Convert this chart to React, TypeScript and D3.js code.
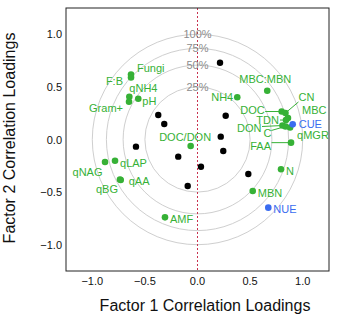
import React from 'react';
import * as d3 from 'd3';

// loadings on factor 1 / factor 2
const greenNames = [
  'Fungi', 'F:B', 'qNH4', 'Gram+', 'pH', 'DOC/DON', 'NH4', 'MBC:MBN',
  'DOC', 'CN', 'MBC', 'TDN', 'DON', 'C', 'qMGR', 'FAA',
  'N', 'MBN', 'qNAG', 'qLAP', 'qAA', 'qBG', 'AMF',
];
const greenF1 = [
  -0.632, -0.632, -0.648, -0.651, -0.563, -0.065, 0.378, 0.663,
  0.8, 0.836, 0.86, 0.841, 0.808, 0.836, 0.88, 0.889,
  0.794, 0.525, -0.879, -0.784, -0.73, -0.737, -0.309,
];
const greenF2 = [
  0.618, 0.589, 0.407, 0.359, 0.388, -0.062, 0.401, 0.464,
  0.266, 0.252, 0.204, 0.185, 0.133, 0.124, 0.114, -0.03,
  -0.283, -0.49, -0.214, -0.202, -0.385, -0.38, -0.74,
];

const blueNames = ['CUE', 'NUE'];
const blueF1 = [0.905, 0.673];
const blueF2 = [0.144, -0.648];

// unlabelled variables
const blackF1 = [-0.373, -0.316, -0.585, 0.214, 0.268, 0.221, 0.245, -0.183, 0.033, -0.093, 0.483];
const blackF2 = [0.233, 0.147, -0.068, 0.73, 0.226, 0.027, -0.109, -0.163, -0.259, -0.442, -0.328];

const varianceRings = [1, 0.75, 0.5, 0.25];
const ticks = [-1, -0.5, 0, 0.5, 1];

const GREEN = '#36b136';
const BLUE = '#3a6cf0';
const FONT = "'Liberation Sans', Arial, Helvetica, sans-serif";

type Lab = { dx: number; dy: number; anchor: string; lx?: number; ly?: number };

const labelLayout: Record<string, Lab> = {
  Fungi: { dx: 6, dy: -6.5, anchor: 'start' },
  'F:B': { dx: -8, dy: 3, anchor: 'end' },
  qNH4: { dx: 0, dy: -8.5, anchor: 'start' },
  'Gram+': { dx: -6, dy: 6.5, anchor: 'end' },
  pH: { dx: 4, dy: 2.5, anchor: 'start' },
  'DOC/DON': { dx: -5.5, dy: -9.5, anchor: 'middle' },
  NH4: { dx: -4, dy: 0, anchor: 'end' },
  'MBC:MBN': { dx: -2, dy: -12, anchor: 'middle' },
  DOC: { dx: -17, dy: -2, anchor: 'end', lx: -16.5, ly: 0 },
  CN: { dx: 13, dy: -16, anchor: 'start', lx: 13, ly: -11 },
  MBC: { dx: 14, dy: -8, anchor: 'start' },
  TDN: { dx: -7, dy: -0.5, anchor: 'end', lx: -6, ly: 0 },
  DON: { dx: -21, dy: 2, anchor: 'end', lx: -20.5, ly: 1 },
  C: { dx: -18, dy: 6.5, anchor: 'middle', lx: -14, ly: 4 },
  qMGR: { dx: 7, dy: 7.5, anchor: 'start' },
  FAA: { dx: -20, dy: 3, anchor: 'end', lx: -19.5, ly: 0 },
  N: { dx: 5, dy: 1.5, anchor: 'start' },
  MBN: { dx: 5, dy: 2, anchor: 'start' },
  qNAG: { dx: -2.5, dy: 9.7, anchor: 'end' },
  qLAP: { dx: 5, dy: 2, anchor: 'start' },
  qAA: { dx: 8, dy: 0.7, anchor: 'start' },
  qBG: { dx: -2, dy: 9.8, anchor: 'end' },
  AMF: { dx: 5, dy: 1.7, anchor: 'start' },
  CUE: { dx: 6, dy: 0, anchor: 'start' },
  NUE: { dx: 5, dy: 1.5, anchor: 'start' },
};

const App = () => {
  const width = 340;
  const height = 324;
  const plot = { left: 66, right: 329, top: 8, bottom: 271 };

  const x = d3.scaleLinear().domain([-1.25, 1.25]).range([plot.left, plot.right]);
  const y = d3.scaleLinear().domain([-1.25, 1.25]).range([plot.bottom, plot.top]);
  const fmt = d3.format('.1f');
  const unit = x(1) - x(0);

  const green = greenNames.map((n, i) => ({ name: n, f1: greenF1[i], f2: greenF2[i], color: GREEN }));
  const blue = blueNames.map((n, i) => ({ name: n, f1: blueF1[i], f2: blueF2[i], color: BLUE }));
  const labelled = [...green, ...blue];

  return (
    <svg width={width} height={height} style={{ position: 'absolute', left: 0, top: 0 }} fontFamily={FONT}>
      <rect x={0} y={0} width={width} height={height} fill="#fff" />

      {/* explained-variance rings, radius = sqrt(share) */}
      {varianceRings.map(p => (
        <circle key={p} cx={x(0)} cy={y(0)} r={Math.sqrt(p) * unit} fill="none" stroke="#cfcfcf" strokeWidth={1} />
      ))}

      <line x1={x(0)} x2={x(0)} y1={plot.top} y2={plot.bottom} stroke="#c8324f" strokeWidth={1} strokeDasharray="2,2" />

      {varianceRings.map(p => (
        <text key={p} x={x(0)} y={y(Math.sqrt(p))} textAnchor="middle" dominantBaseline="central" fontSize={11} fill="#8c8c8c">
          {`${p * 100}%`}
        </text>
      ))}

      <rect x={plot.left} y={plot.top} width={plot.right - plot.left} height={plot.bottom - plot.top} fill="none" stroke="#222" strokeWidth={1} />

      {blackF1.map((v, i) => (
        <circle key={i} cx={x(v)} cy={y(blackF2[i])} r={3.2} fill="#000" />
      ))}

      {labelled.map(d => {
        const l = labelLayout[d.name];
        const px = x(d.f1);
        const py = y(d.f2);
        return l && l.lx !== undefined ? (
          <line key={d.name + '-lead'} x1={px} y1={py} x2={px + l.lx} y2={py + (l.ly || 0)} stroke={d.color} strokeWidth={1} />
        ) : null;
      })}

      {labelled.map(d => (
        <circle key={d.name} cx={x(d.f1)} cy={y(d.f2)} r={3.3} fill={d.color} />
      ))}

      {labelled.map(d => {
        const l = labelLayout[d.name];
        return (
          <text key={d.name + '-lab'} x={x(d.f1) + l.dx} y={y(d.f2) + l.dy} textAnchor={l.anchor} dominantBaseline="central" fontSize={11} fill={d.color}>
            {d.name}
          </text>
        );
      })}

      {ticks.map(t => (
        <text key={'x' + t} x={x(t)} y={plot.bottom + 14} textAnchor="middle" fontSize={11} fill="#111">
          {fmt(t)}
        </text>
      ))}
      {ticks.map(t => (
        <text key={'y' + t} x={plot.left - 4} y={y(t) + 4} textAnchor="end" fontSize={11} fill="#111">
          {fmt(t)}
        </text>
      ))}

      <text x={205} y={310.5} textAnchor="middle" fontSize={16} fill="#111">
        Factor 1 Correlation Loadings
      </text>
      <text transform={`translate(15, 138) rotate(-90)`} textAnchor="middle" fontSize={16} fill="#111">
        Factor 2 Correlation Loadings
      </text>
    </svg>
  );
};

export default App;
